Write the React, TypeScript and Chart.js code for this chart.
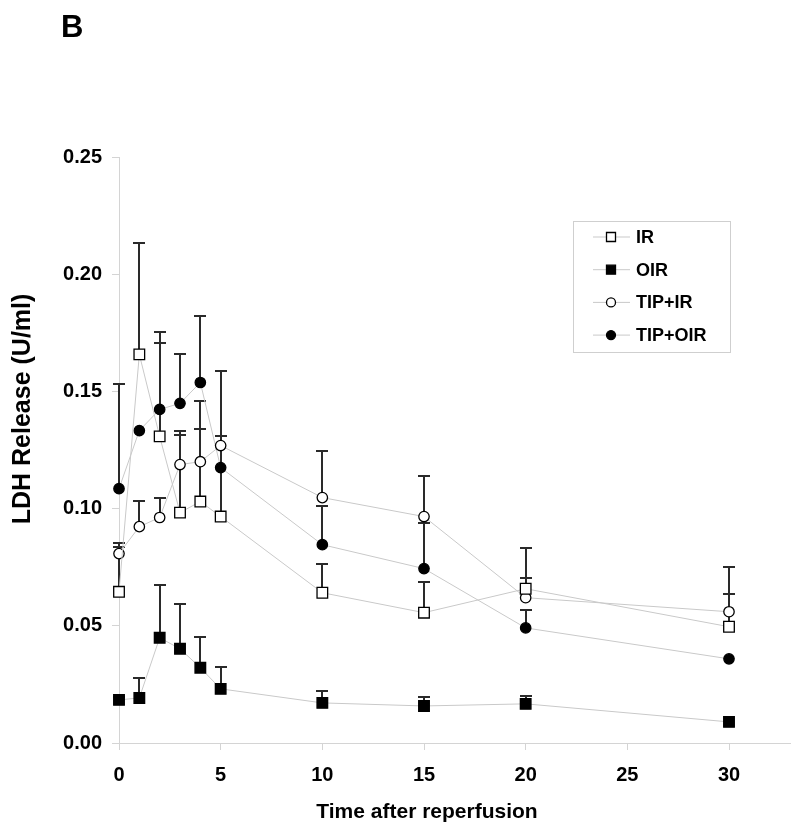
import React, { useEffect, useRef } from 'react';
import { Chart, registerables } from 'chart.js';

Chart.register(...registerables);

// ---- data ----
const times = [0, 1, 2, 3, 4, 5, 10, 15, 20, 30];
const seriesNames = ['IR', 'OIR', 'TIP+IR', 'TIP+OIR'];

const irValues = [0.0645, 0.1658, 0.1308, 0.0983, 0.103, 0.0966, 0.0641, 0.0556, 0.0658, 0.0496];
const irUpper = [0.0838, 0.2133, 0.1705, 0.1316, 0.134, 0.131, 0.0765, 0.0688, 0.0705, 0.0637];

const oirValues = [0.0184, 0.0192, 0.0449, 0.0402, 0.0321, 0.0231, 0.0171, 0.0158, 0.0167, 0.009];
const oirUpper = [0.0195, 0.0278, 0.0675, 0.0594, 0.0453, 0.0325, 0.0222, 0.0196, 0.0201, null];

const tipIrValues = [0.0808, 0.0923, 0.0962, 0.1188, 0.12, 0.1269, 0.1047, 0.0966, 0.062, 0.056];
const tipIrUpper = [0.0855, 0.1034, 0.1047, 0.1329, 0.146, 0.1585, 0.1244, 0.1137, 0.0833, 0.0752];

const tipOirValues = [0.1085, 0.1333, 0.1423, 0.1449, 0.1538, 0.1175, 0.0846, 0.0744, 0.0491, 0.0359];
const tipOirUpper = [0.153, null, 0.1752, 0.1658, 0.182, null, 0.1013, 0.094, 0.0568, null];

const xTickLabels = ['0', '5', '10', '15', '20', '25', '30'];
const yTickLabels = ['0.00', '0.05', '0.10', '0.15', '0.20', '0.25'];

const panelLabel = 'B';
const xTitle = 'Time after reperfusion';
const yTitle = 'LDH Release (U/ml)';

const FONT = '"Liberation Sans", Arial, Helvetica, sans-serif';
const LINE_GRAY = '#c9c9c9';

type Marker = { style: 'rect' | 'circle'; filled: boolean };
const markers: Marker[] = [
  { style: 'rect', filled: false },
  { style: 'rect', filled: true },
  { style: 'circle', filled: false },
  { style: 'circle', filled: true },
];

function drawMarker(ctx: CanvasRenderingContext2D, m: Marker, x: number, y: number, size: number) {
  ctx.save();
  ctx.fillStyle = m.filled ? '#000' : '#fff';
  ctx.strokeStyle = '#000';
  ctx.lineWidth = 1.3;
  ctx.beginPath();
  if (m.style === 'rect') {
    ctx.rect(x - size / 2, y - size / 2, size, size);
  } else {
    ctx.arc(x, y, size / 2, 0, Math.PI * 2);
  }
  ctx.fill();
  ctx.stroke();
  ctx.restore();
}

const overlayPlugin = {
  id: 'overlay',
  beforeDatasetsDraw(chart: any) {
    const ctx: CanvasRenderingContext2D = chart.ctx;
    const xs = chart.scales.x;
    const ys = chart.scales.y;
    ctx.save();
    ctx.strokeStyle = '#2a2a2a';
    ctx.lineWidth = 2;
    chart.data.datasets.forEach((ds: any) => {
      const ups = ds.errorUpper as (number | null)[];
      ds.data.forEach((p: any, j: number) => {
        const u = ups[j];
        if (u == null) return;
        const x = Math.round(xs.getPixelForValue(p.x));
        const y0 = ys.getPixelForValue(p.y);
        const y1 = Math.round(ys.getPixelForValue(u));
        ctx.beginPath();
        ctx.moveTo(x, y0);
        ctx.lineTo(x, y1);
        ctx.moveTo(x - 6, y1);
        ctx.lineTo(x + 6, y1);
        ctx.stroke();
      });
    });
    ctx.restore();
  },
  afterDraw(chart: any) {
    const ctx: CanvasRenderingContext2D = chart.ctx;
    const area = chart.chartArea;
    const xs = chart.scales.x;
    ctx.save();
    ctx.fillStyle = '#000';

    // panel label
    ctx.font = `bold 31px ${FONT}`;
    ctx.textAlign = 'left';
    ctx.textBaseline = 'alphabetic';
    ctx.fillText(panelLabel, 61, 37);

    // x title
    ctx.font = `bold 21px ${FONT}`;
    ctx.textAlign = 'center';
    ctx.textBaseline = 'middle';
    ctx.fillText(xTitle, xs.getPixelForValue(15) + 3, 812);

    // y title
    ctx.save();
    ctx.translate(23, area.top + (area.bottom - area.top) * 0.43);
    ctx.rotate(-Math.PI / 2);
    ctx.font = `bold 25px ${FONT}`;
    ctx.textAlign = 'center';
    ctx.textBaseline = 'middle';
    ctx.fillText(yTitle, 0, 0);
    ctx.restore();

    // legend
    const lx = area.left + 454;
    const ly = area.top + 64;
    const lw = 157;
    const lh = 131;
    ctx.strokeStyle = '#cfcfcf';
    ctx.lineWidth = 1;
    ctx.strokeRect(lx + 0.5, ly + 0.5, lw, lh);
    ctx.font = `bold 18px ${FONT}`;
    ctx.textAlign = 'left';
    ctx.textBaseline = 'middle';
    chart.data.datasets.forEach((ds: any, i: number) => {
      const cy = ly + 16 + i * 32.7;
      ctx.strokeStyle = LINE_GRAY;
      ctx.lineWidth = 1;
      ctx.beginPath();
      ctx.moveTo(lx + 20, cy);
      ctx.lineTo(lx + 57, cy);
      ctx.stroke();
      drawMarker(ctx, markers[i], lx + 38, cy, 9);
      ctx.fillStyle = '#000';
      ctx.fillText(ds.label, lx + 63, cy + 1);
    });
    ctx.restore();
  },
};

export default function App() {
  const ref = useRef<HTMLCanvasElement | null>(null);

  useEffect(() => {
    document.body.style.margin = '0';
    document.body.style.overflow = 'hidden';
    const canvas = ref.current;
    if (!canvas) return;

    const valueSets = [irValues, oirValues, tipIrValues, tipOirValues];
    const upperSets = [irUpper, oirUpper, tipIrUpper, tipOirUpper];

    const datasets = seriesNames.map((name, i) => ({
      label: name,
      data: times.map((t, j) => ({ x: t, y: valueSets[i][j] })),
      errorUpper: upperSets[i],
      borderColor: LINE_GRAY,
      borderWidth: 1,
      tension: 0,
      fill: false,
      clip: false,
      pointStyle: markers[i].style,
      pointRadius: markers[i].style === 'rect' ? 7.5 : 5.2,
      pointBackgroundColor: markers[i].filled ? '#000' : '#fff',
      pointBorderColor: '#000',
      pointBorderWidth: 1.3,
      pointHoverRadius: markers[i].style === 'rect' ? 7.5 : 5.2,
    }));

    const chart = new Chart(canvas, {
      type: 'line',
      data: { datasets } as any,
      options: {
        responsive: false,
        animation: false,
        events: [],
        layout: { padding: { top: 157, right: 10, left: 0, bottom: 0 } },
        plugins: {
          legend: { display: false },
          tooltip: { enabled: false },
          title: { display: false },
        },
        scales: {
          x: {
            type: 'linear',
            min: 0,
            max: 33,
            afterFit: (s: any) => {
              s.height = 93;
            },
            grid: {
              drawOnChartArea: false,
              drawTicks: true,
              tickLength: 7,
              color: '#d4d4d4',
            },
            border: { display: true, color: '#d4d4d4', width: 1 },
            ticks: {
              stepSize: 5,
              includeBounds: false,
              padding: 13,
              color: '#000',
              font: { family: FONT, size: 20, weight: 'bold' },
              callback: (_v: any, idx: number) => xTickLabels[idx],
            },
          },
          y: {
            type: 'linear',
            min: 0,
            max: 0.25,
            afterFit: (s: any) => {
              s.width = 119;
            },
            grid: {
              drawOnChartArea: false,
              drawTicks: true,
              tickLength: 7,
              color: '#d4d4d4',
            },
            border: { display: true, color: '#d4d4d4', width: 1 },
            ticks: {
              stepSize: 0.05,
              padding: 10,
              color: '#000',
              font: { family: FONT, size: 20, weight: 'bold' },
              callback: (_v: any, idx: number) => yTickLabels[idx],
            },
          },
        },
      } as any,
      plugins: [overlayPlugin],
    });

    return () => {
      chart.destroy();
    };
  }, []);

  return (
    <div style={{ width: 800, height: 836 }}>
      <canvas ref={ref} width={800} height={836} style={{ width: 800, height: 836, display: 'block' }} />
    </div>
  );
}
